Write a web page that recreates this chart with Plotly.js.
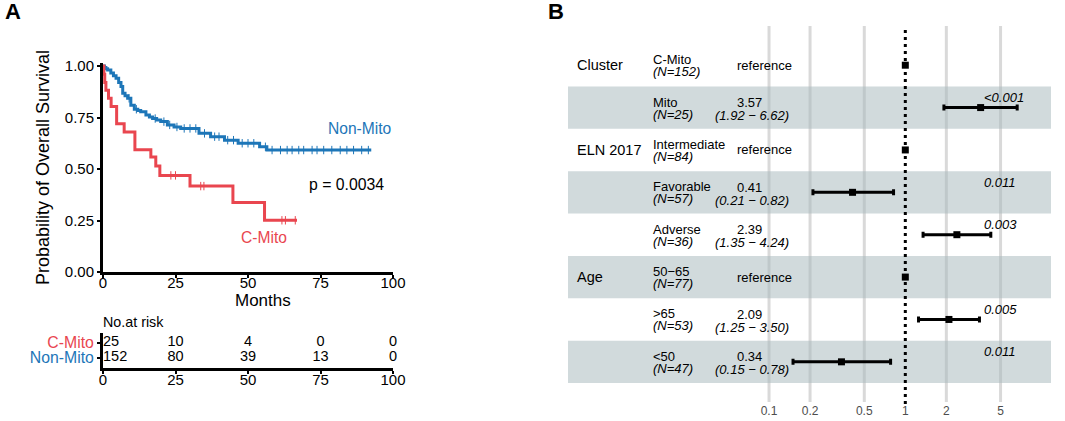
<!DOCTYPE html>
<html>
<head>
<meta charset="utf-8">
<script src="https://cdn.plot.ly/plotly-3.0.1.min.js"></script>
<style>html,body{margin:0;padding:0;background:#fff;}#chart{width:1065px;height:421px;}</style>
</head>
<body>
<div id="chart"></div>
<script>
// ---------- Panel A: Kaplan-Meier data ----------
const cMitoTime = [0, 0.3, 0.6, 1.0, 1.9, 2.8, 4.7, 7.3, 11.0, 16.5, 18.2, 19.6, 30.0, 44.8, 55.7, 66.9];
const cMitoSurv = [1, 0.96, 0.92, 0.882, 0.843, 0.804, 0.720, 0.680, 0.594, 0.558, 0.515, 0.469, 0.417, 0.337, 0.251, 0.251];
const cMitoCensor = [23.4, 25.0, 33.7, 34.8, 61.7, 62.9, 66.3];

const nonMitoTime = [0, 0.5, 1.0, 1.6, 2.7, 3.6, 4.5, 5.4, 6.2, 6.8, 7.6, 8.5, 9.6, 10.8, 12, 13, 14.8, 16, 17.1, 18.5, 19.9, 22.2, 24.5, 26.8, 33.1, 37.1, 41.9, 46.6, 54, 56.5, 92.5];
const nonMitoSurv = [1, 0.993, 0.987, 0.98, 0.966, 0.953, 0.94, 0.92, 0.90, 0.868, 0.855, 0.843, 0.81, 0.79, 0.784, 0.778, 0.762, 0.753, 0.745, 0.738, 0.73, 0.714, 0.704, 0.697, 0.673, 0.657, 0.64, 0.625, 0.608, 0.592, 0.592];
const nonMitoCensor = [9, 11.5, 18, 21, 23, 25.5, 28, 30, 32, 35, 38.5, 40, 43, 45, 48, 50, 52, 56, 58.3, 61.2, 63.5, 65.2, 67.5, 69.2, 72.1, 73.8, 76.1, 78.9, 81.8, 84.1, 86.4, 89.2, 91.5];

const pValueText = "p = 0.0034";

// risk table
const riskTimes = [0, 25, 50, 75, 100];
const riskCMito = [25, 10, 4, 0, 0];
const riskNonMito = [152, 80, 39, 13, 0];
const groupNames = ["C-Mito", "Non-Mito"];

// ---------- Panel B: forest plot data ----------
const fVariables = ["Cluster", "", "ELN 2017", "", "", "Age", "", ""];
const fLevels = ["C-Mito", "Mito", "Intermediate", "Favorable", "Adverse", "50\u221265", ">65", "<50"];
const fN = [152, 25, 84, 57, 36, 77, 53, 47];
const fRef = [true, false, true, false, false, true, false, false];
const fHR = [1, 3.57, 1, 0.41, 2.39, 1, 2.09, 0.34];
const fLo = [null, 1.92, null, 0.21, 1.35, null, 1.25, 0.15];
const fHi = [null, 6.62, null, 0.82, 4.24, null, 3.50, 0.78];
const fP = ["", "<0.001", "", "0.011", "0.003", "", "0.005", "0.011"];
const fTicks = [0.1, 0.2, 0.5, 1, 2, 5];
const fGrid = [0.1, 0.2, 0.5, 2, 5];

// ---------- styling / geometry ----------
const W = 1065, H = 421;
const px = x => x / W;
const py = y => 1 - y / H;
const RED = "#E9464F", BLUE = "#1D76B8";
const FONT = "Liberation Sans, Arial, sans-serif";

function stepAt(times, surv, t) {
  let v = surv[0];
  for (let i = 0; i < times.length; i++) { if (times[i] <= t) v = surv[i]; }
  return v;
}

const traces = [];
traces.push({
  x: nonMitoTime, y: nonMitoSurv, type: "scatter", mode: "lines",
  line: {shape: "hv", color: BLUE, width: 3}, xaxis: "x", yaxis: "y", hoverinfo: "skip"
});
traces.push({
  x: nonMitoCensor, y: nonMitoCensor.map(t => stepAt(nonMitoTime, nonMitoSurv, t)),
  type: "scatter", mode: "markers",
  marker: {symbol: "line-ns-open", size: 6, color: BLUE, line: {color: BLUE, width: 1}},
  xaxis: "x", yaxis: "y", hoverinfo: "skip"
});
traces.push({
  x: cMitoTime, y: cMitoSurv, type: "scatter", mode: "lines",
  line: {shape: "hv", color: RED, width: 3}, xaxis: "x", yaxis: "y", hoverinfo: "skip"
});
traces.push({
  x: cMitoCensor, y: cMitoCensor.map(t => stepAt(cMitoTime, cMitoSurv, t)),
  type: "scatter", mode: "markers",
  marker: {symbol: "line-ns-open", size: 6, color: RED, line: {color: RED, width: 1}},
  xaxis: "x", yaxis: "y", hoverinfo: "skip"
});

// risk table text
const rx = [], ry = [], rt = [], rpos = [];
riskTimes.forEach((t, i) => { rx.push(t); ry.push(2); rt.push(String(riskCMito[i])); rpos.push(i === 0 ? "middle right" : "middle center"); });
riskTimes.forEach((t, i) => { rx.push(t); ry.push(1); rt.push(String(riskNonMito[i])); rpos.push(i === 0 ? "middle right" : "middle center"); });
traces.push({
  x: rx, y: ry, text: rt, type: "scatter", mode: "text", textposition: rpos,
  textfont: {family: FONT, size: 14.5, color: "#000"}, xaxis: "x3", yaxis: "y3",
  cliponaxis: false, hoverinfo: "skip"
});

// forest traces
const rowIdx = fLevels.map((_, i) => i + 1);
const estI = rowIdx.filter((_, i) => !fRef[i]).map(r => r - 1);
traces.push({
  x: estI.map(i => fHR[i]), y: estI.map(i => i + 1), type: "scatter", mode: "markers",
  marker: {symbol: "square", size: 7, color: "#000"},
  error_x: {type: "data", symmetric: false,
    array: estI.map(i => fHi[i] - fHR[i]), arrayminus: estI.map(i => fHR[i] - fLo[i]),
    thickness: 3, width: 3, color: "#000"},
  xaxis: "x2", yaxis: "y2", hoverinfo: "skip", cliponaxis: false
});
const refI = rowIdx.filter((_, i) => fRef[i]).map(r => r - 1);
traces.push({
  x: refI.map(i => fHR[i]), y: refI.map(i => i + 1), type: "scatter", mode: "markers",
  marker: {symbol: "square", size: 7, color: "#000"},
  xaxis: "x2", yaxis: "y2", hoverinfo: "skip", cliponaxis: false
});

// ---------- shapes ----------
const shapes = [];
fGrid.forEach(v => shapes.push({type: "line", xref: "x2", yref: "y2 domain", x0: v, x1: v, y0: 0, y1: 1,
  line: {color: "#D9D9D9", width: 3}, layer: "below"}));
rowIdx.forEach(r => {
  if (r % 2 === 0) shapes.push({type: "rect", xref: "x2 domain", yref: "y2", x0: 0, x1: 1, y0: r - 0.5, y1: r + 0.5,
    fillcolor: "rgb(168,186,188)", opacity: 0.53, line: {width: 0}, layer: "below"});
});
shapes.push({type: "line", xref: "x2", yref: "y2 domain", x0: 1, x1: 1, y0: -0.005, y1: 1,
  line: {color: "#000", width: 3, dash: "3px,4px"}, layer: "below"});

// ---------- annotations ----------
const ann = [];
const A = (o) => ann.push(Object.assign({showarrow: false, xanchor: "center", yanchor: "middle",
  font: {family: FONT, size: 14, color: "#000"}}, o));
A({text: "<b>A</b>", xref: "paper", yref: "paper", x: px(13), y: py(12), font: {family: FONT, size: 22, color: "#000"}});
A({text: "<b>B</b>", xref: "paper", yref: "paper", x: px(556), y: py(12), font: {family: FONT, size: 22, color: "#000"}});
A({text: "Probability of Overall Survival", xref: "paper", yref: "paper", x: px(43), y: py(168), textangle: -90,
  font: {family: FONT, size: 18, color: "#000"}});
A({text: "Months", xref: "paper", yref: "paper", x: px(263), y: py(300), font: {family: FONT, size: 17, color: "#000"}});
A({text: "Non-Mito", xref: "paper", yref: "paper", x: px(360), y: py(128), font: {family: FONT, size: 15.6, color: BLUE}});
A({text: "C-Mito", xref: "paper", yref: "paper", x: px(264), y: py(237), font: {family: FONT, size: 15.6, color: RED}});
A({text: pValueText, xref: "paper", yref: "paper", x: px(346), y: py(184), font: {family: FONT, size: 15.8, color: "#000"}});
A({text: "No.at risk", xref: "paper", yref: "paper", x: px(101), y: py(322), xanchor: "left", font: {family: FONT, size: 14.3, color: "#000"}});

// forest text
const xCol1 = px(575), xCol2 = px(651), xEst = px(749), xCI = px(752), xRefTxt = px(764), xP = px(982);
fLevels.forEach((lv, i) => {
  const r = i + 1;
  if (fVariables[i]) A({text: fVariables[i], xref: "paper", yref: "y2", x: xCol1, y: r, xanchor: "left", font: {family: FONT, size: 14.5, color: "#000"}});
  A({text: lv, xref: "paper", yref: "y2", x: xCol2, y: r, yshift: 5.5, xanchor: "left", font: {family: FONT, size: 13, color: "#000"}});
  A({text: "<i>(N=" + fN[i] + ")</i>", xref: "paper", yref: "y2", x: xCol2, y: r, yshift: -6.5, xanchor: "left", font: {family: FONT, size: 13, color: "#000"}});
  if (fRef[i]) {
    A({text: "reference", xref: "paper", yref: "y2", x: xRefTxt, y: r, font: {family: FONT, size: 13, color: "#000"}});
  } else {
    A({text: fHR[i].toFixed(2), xref: "paper", yref: "y2", x: xEst, y: r, yshift: 5, font: {family: FONT, size: 13, color: "#000"}});
    A({text: "<i>(" + fLo[i].toFixed(2) + " \u2212 " + fHi[i].toFixed(2) + ")</i>", xref: "paper", yref: "y2", x: xCI, y: r, yshift: -8, font: {family: FONT, size: 13, color: "#000"}});
    A({text: "<i>" + fP[i] + "</i>", xref: "paper", yref: "y2", x: xP, y: r, yshift: 10, xanchor: "left", font: {family: FONT, size: 13, color: "#000"}});
  }
});

const kmTop = 272 - 206 * 1.015;
const layout = {
  width: W, height: H, margin: {l: 0, r: 0, t: 0, b: 0}, showlegend: false,
  paper_bgcolor: "#fff", plot_bgcolor: "rgba(0,0,0,0)",
  font: {family: FONT, color: "#000"},
  xaxis: {domain: [px(103), px(393)], range: [0, 100], anchor: "y", showgrid: false, zeroline: false,
    showline: true, linecolor: "#000", linewidth: 3, ticks: "outside", ticklen: 3, tickwidth: 2, tickcolor: "#000",
    ticklabelstandoff: -8,
    tickvals: riskTimes, tickfont: {family: FONT, size: 15, color: "#000"}},
  yaxis: {domain: [py(272), py(kmTop)], range: [0, 1.015], anchor: "x", showgrid: false, zeroline: false,
    showline: true, linecolor: "#000", linewidth: 3, ticks: "outside", ticklen: 3, tickwidth: 2, tickcolor: "#000",
    tickvals: [0, 0.25, 0.5, 0.75, 1], ticktext: ["0.00", "0.25", "0.50", "0.75", "1.00"],
    tickfont: {family: FONT, size: 15, color: "#000"}},
  xaxis3: {domain: [px(103), px(393)], range: [0, 100], anchor: "y3", showgrid: false, zeroline: false,
    showline: true, linecolor: "#000", linewidth: 3, ticks: "outside", ticklen: 3, tickwidth: 2, tickcolor: "#000",
    ticklabelstandoff: -7,
    tickvals: riskTimes, tickfont: {family: FONT, size: 15, color: "#000"}},
  yaxis3: {domain: [py(368), py(333)], range: [0.3, 2.633], anchor: "x3", showgrid: false, zeroline: false,
    showline: true, linecolor: "#000", linewidth: 3, ticks: "outside", ticklen: 3, tickwidth: 2, tickcolor: "#000",
    tickvals: [2, 1],
    ticktext: ["<span style='color:" + RED + "'>" + groupNames[0] + "</span>", "<span style='color:" + BLUE + "'>" + groupNames[1] + "</span>"],
    tickfont: {family: FONT, size: 15.8, color: "#000"}},
  xaxis2: {domain: [px(568), px(1051)], type: "log", range: [-2.475, 1.069], anchor: "y2", showgrid: false, zeroline: false,
    showline: false, ticks: "", tickvals: fTicks, ticktext: fTicks.map(String),
    tickfont: {family: FONT, size: 12, color: "#4D4D4D"}},
  yaxis2: {domain: [py(402), py(26)], range: [8.948, 0.075], anchor: "x2", visible: false, showgrid: false, zeroline: false},
  shapes: shapes,
  annotations: ann
};

Plotly.newPlot("chart", traces, layout, {staticPlot: true, displayModeBar: false});
</script>
</body>
</html>
